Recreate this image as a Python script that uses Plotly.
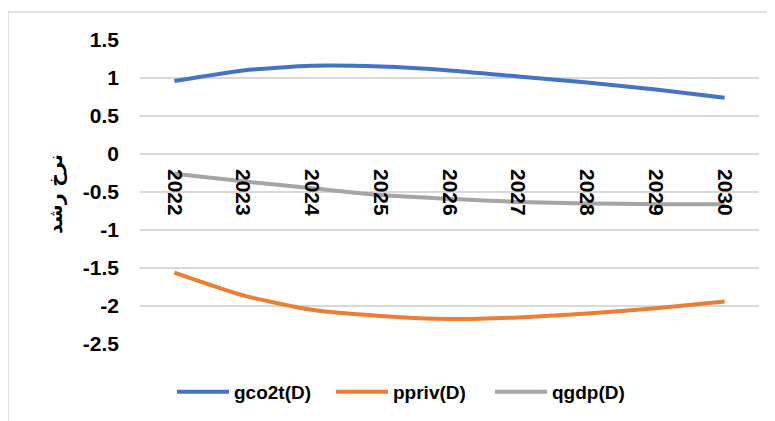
import plotly.graph_objects as go

years = ["2022", "2023", "2024", "2025", "2026", "2027", "2028", "2029", "2030"]
gco2t = [0.96, 1.10, 1.16, 1.15, 1.10, 1.02, 0.94, 0.85, 0.74]
ppriv = [-1.56, -1.86, -2.05, -2.13, -2.17, -2.15, -2.10, -2.03, -1.94]
qgdp = [-0.26, -0.36, -0.45, -0.54, -0.59, -0.63, -0.65, -0.66, -0.66]

series = [("gco2t(D)", gco2t, "#4472C4"),
          ("ppriv(D)", ppriv, "#ED7D31"),
          ("qgdp(D)", qgdp, "#A5A5A5")]

fig = go.Figure()
for name, vals, col in series:
    fig.add_trace(go.Scatter(x=years, y=vals, name=name, mode="lines",
                             line=dict(color=col, width=4, shape="spline", smoothing=0.6)))

# the page body adds an 8px offset; size and place the figure so it lands on the target pixels
OFF = 8
W, H = 775 - OFF, 421 - OFF
L, R, T, B = 140 - OFF, 16, 40 - OFF, 77
pw, ph = W - L - R, H - T - B

def px_x(x):
    return (x - OFF - L) / pw

def px_y(y):
    return (H - B - (y - OFF)) / ph

fig.update_layout(
    width=W, height=H,
    margin=dict(l=L, r=R, t=T, b=B, autoexpand=False),
    plot_bgcolor="white", paper_bgcolor="white",
    font=dict(family="Liberation Sans", color="black"),
    xaxis=dict(type="category", range=[-0.5, 8.5], showgrid=False, zeroline=False,
               showline=False, anchor="free", position=2.5 / 4.0, automargin=False,
               tickangle=90, ticks="", ticklabelstandoff=14,
               tickfont=dict(size=21, family="Liberation Sans", weight="bold")),
    yaxis=dict(range=[-2.5, 1.5], tickvals=[-2.5, -2, -1.5, -1, -0.5, 0, 0.5, 1, 1.5],
               ticktext=["-2.5", "-2", "-1.5", "-1", "-0.5", "0", "0.5", "1", "1.5"],
               showgrid=True, gridcolor="#D9D9D9", gridwidth=1.5, automargin=False,
               zeroline=True, zerolinecolor="#D9D9D9", zerolinewidth=1.5,
               showline=False, ticks="", ticklabelstandoff=20,
               tickfont=dict(size=21, family="Liberation Sans", weight="bold")),
    legend=dict(orientation="h", x=px_x(172), xanchor="left", y=px_y(392), yanchor="middle",
                font=dict(size=19, family="Liberation Sans", weight="bold"),
                itemwidth=52, entrywidth=92, entrywidthmode="pixels", tracegroupgap=0),
    showlegend=True,
)

fig.add_annotation(text="نرخ رشد", x=px_x(55), y=px_y(194), xref="paper", yref="paper",
                   textangle=-90, showarrow=False, xanchor="center", yanchor="middle",
                   font=dict(size=19, family="DejaVu Sans", weight="bold", color="black"))

fig.add_shape(type="rect", xref="paper", yref="paper",
              x0=px_x(8), x1=px_x(774), y0=px_y(440), y1=px_y(12),
              line=dict(color="#D9D9D9", width=1.5), fillcolor="rgba(0,0,0,0)", layer="below")

fig.write_html("out.html")
